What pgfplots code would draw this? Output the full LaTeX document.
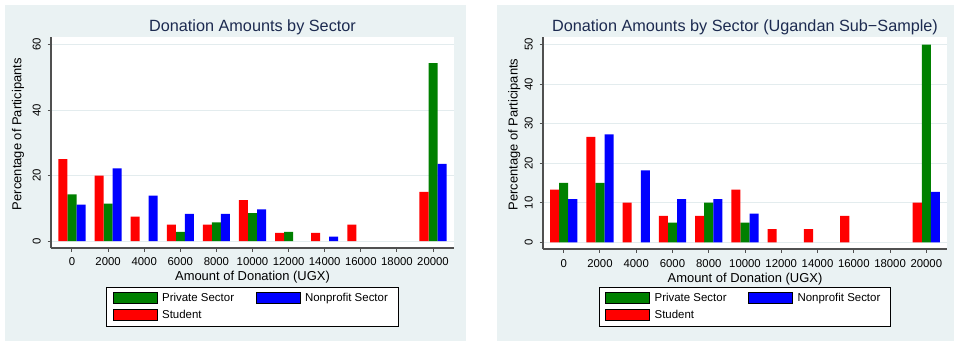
\documentclass[border=0pt]{standalone}
\usepackage{pgfplots}
\pgfplotsset{compat=1.18}
\usepackage{fontspec}
\setmainfont{Liberation Sans}
\definecolor{bgc}{HTML}{EAF2F3}
\definecolor{gridc}{HTML}{E3ECEE}
\definecolor{titc}{HTML}{1C2A50}
\definecolor{axc}{HTML}{505050}
\definecolor{sgreen}{HTML}{008000}
\definecolor{sred}{HTML}{FF0000}
\definecolor{sblue}{HTML}{0000FF}
\pgfplotsset{
  statastyle/.style={
    scale only axis,
    axis lines*=left,
    axis background/.style={fill=white},
    axis line style={axc, line width=1.1bp},
    tick style={axc, line width=1bp},
    tick align=outside,
    major tick length=3.5bp,
    ymajorgrids,
    grid style={gridc, line width=1bp},
    enlargelimits=false,
    xtick={0,2000,4000,6000,8000,10000,12000,14000,16000,18000,20000},
    scaled x ticks=false,
    scaled y ticks=false,
    /pgf/number format/1000 sep={},
    /pgf/number format/assume math mode=true,
    tick label style={font=\fontsize{11.4}{13}\selectfont},
    yticklabel style={xshift=-7bp, rotate=90, anchor=base},
    title style={font=\fontsize{16.3}{18}\selectfont, color=titc, anchor=base, inner sep=0pt},
    xlabel style={font=\fontsize{13}{15}\selectfont, at={(axis description cs:0.5,0)}, anchor=base, inner sep=0pt},
    ylabel style={font=\fontsize{13}{15}\selectfont, anchor=base, inner sep=0pt},
    xlabel={Amount of Donation (UGX)},
    ylabel={Percentage of Participants},
    legend columns=2,
    legend cell align=left,
    legend image code/.code={\fill[##1] (0bp,-5.5bp) rectangle (44bp,5.5bp);},
    legend style={anchor=north, draw=black, line width=1bp, fill=white,
      font=\fontsize{11.5}{13}\selectfont, inner xsep=6bp, inner ysep=4.5bp,
      row sep=4bp, nodes={inner xsep=4.5bp, inner ysep=1.5bp},
      /tikz/every even column/.append style={column sep=17bp}},
  }
}
\begin{document}
\begin{tikzpicture}[x=1bp,y=1bp]
\useasboundingbox (0,0) rectangle (954,341);
\fill[bgc] (5,0) rectangle (466,336);
\fill[bgc] (497,0) rectangle (954,336);
\begin{axis}[statastyle,
  at={(51bp,93bp)}, anchor=south west, width=403bp, height=211bp,
  xmin=-1163, xmax=21163, ymin=-2.1, ymax=62.3,
  ytick={0,20,40,60},
  xticklabel style={anchor=base, yshift=-14bp},
  title={Donation Amounts by Sector},
  title style={at={(axis description cs:0.5,1)}, yshift=0bp},
  xlabel style={yshift=-32bp},
  ylabel style={at={(axis description cs:-0.0737,0.54)}},
  legend style={at={(axis description cs:0.5,-0.1848)}},
]
\addplot[ybar, bar width=500, bar shift=0, fill=sgreen, draw=none, forget plot] coordinates {
 (0,14.29) (2000,11.43) (6000,2.86) (8000,5.71) (10000,8.57) (12000,2.86) (20000,54.29)};
\addplot[ybar, bar width=500, bar shift=500, fill=sblue, draw=none, forget plot] coordinates {
 (0,11.11) (2000,22.22) (4000,13.89) (6000,8.33) (8000,8.33) (10000,9.72) (14000,1.39) (20000,23.61)};
\addplot[ybar, bar width=500, bar shift=-500, fill=sred, draw=none, forget plot] coordinates {
 (0,25) (2000,20) (4000,7.5) (6000,5) (8000,5) (10000,12.5) (12000,2.5) (14000,2.5) (16000,5) (20000,15)};
\addlegendimage{fill=sgreen}
\addlegendentry{Private Sector}
\addlegendimage{fill=sblue}
\addlegendentry{Nonprofit Sector}
\addlegendimage{fill=sred}
\addlegendentry{Student}
\end{axis}
\begin{axis}[statastyle,
  at={(543bp,92bp)}, anchor=south west, width=404bp, height=212bp,
  xmin=-1142, xmax=21142, ymin=-1.7, ymax=51.9,
  ytick={0,10,20,30,40,50},
  xticklabel style={anchor=base, yshift=-15bp},
  title={Donation Amounts by Sector (Ugandan Sub−Sample)},
  title style={at={(axis description cs:0.5,1)}, yshift=-0.5bp},
  xlabel style={yshift=-33bp},
  ylabel style={at={(axis description cs:-0.0629,0.54)}},
  legend style={at={(axis description cs:0.5,-0.179)}},
]
\addplot[ybar, bar width=500, bar shift=0, fill=sgreen, draw=none, forget plot] coordinates {
 (0,15) (2000,15) (6000,5) (8000,10) (10000,5) (20000,50)};
\addplot[ybar, bar width=500, bar shift=500, fill=sblue, draw=none, forget plot] coordinates {
 (0,10.91) (2000,27.27) (4000,18.18) (6000,10.91) (8000,10.91) (10000,7.27) (20000,12.73)};
\addplot[ybar, bar width=500, bar shift=-500, fill=sred, draw=none, forget plot] coordinates {
 (0,13.33) (2000,26.67) (4000,10) (6000,6.67) (8000,6.67) (10000,13.33) (12000,3.33) (14000,3.33) (16000,6.67) (20000,10)};
\addlegendimage{fill=sgreen}
\addlegendentry{Private Sector}
\addlegendimage{fill=sblue}
\addlegendentry{Nonprofit Sector}
\addlegendimage{fill=sred}
\addlegendentry{Student}
\end{axis}
\end{tikzpicture}
\end{document}
